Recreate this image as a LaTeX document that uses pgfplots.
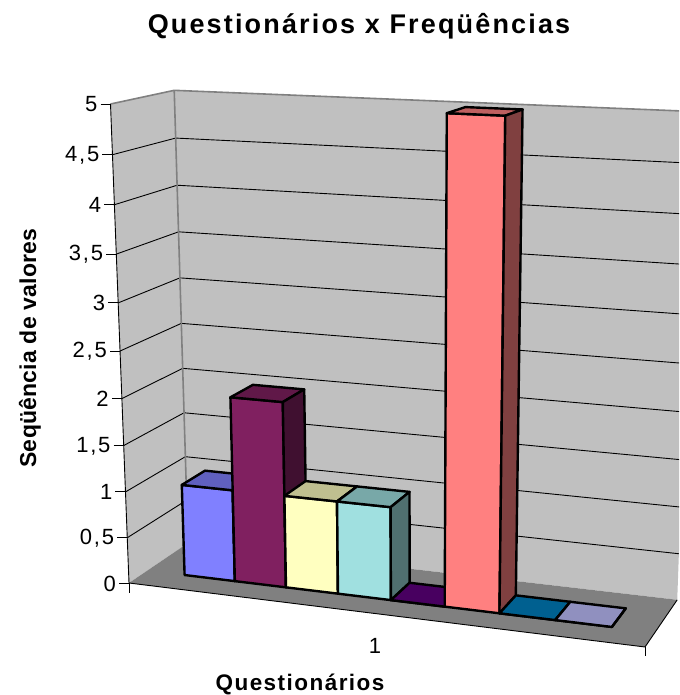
\documentclass[border=0pt]{standalone}
\usepackage{pgfplots}
\usepackage{pgfplotstable}
\usepackage{fontspec}
\setmainfont{Liberation Sans}
\pgfplotsset{compat=1.18}
\definecolor{cA}{HTML}{8080FF}
\definecolor{cB}{HTML}{802060}
\definecolor{cC}{HTML}{FFFFC0}
\definecolor{cD}{HTML}{A0E0E0}
\definecolor{cE}{HTML}{600080}
\definecolor{cF}{HTML}{FF8080}
\definecolor{cG}{HTML}{0080C0}
\definecolor{cH}{HTML}{C0C0FF}
\pgfplotstableread{
slot value
0 1
1 2
2 1
3 1
4 0
5 5
6 0
7 0
}\datatab
\tikzset{
  declare function={
    UU(\a)=(\a+0.75)/9.5;
    WW(\z)=\z/5;
    DD(\u,\v,\w)=1-0.08*\u+0.06*\v-0.061*\w;
    PX(\a,\d,\z)=(129+464.4*UU(\a)+70.28*\d-25.24*WW(\z))/DD(UU(\a),\d,WW(\z));
    PY(\a,\d,\z)=(583+12.24*UU(\a)-7.42*\d-485.34*WW(\z))/DD(UU(\a),\d,WW(\z));
  }
}
% a polygon given in (slot, depth, value) coordinates, shifted by #1 slots
\newcommand\face[3]{\addplot[#2,forget plot] table[row sep=\\,
   x expr={PX(\thisrow{a}+#1,\thisrow{d},\thisrow{z})},
   y expr={PY(\thisrow{a}+#1,\thisrow{d},\thisrow{z})}]{a d z\\ #3} -- cycle;}
\newcommand\seg[3]{\addplot[#2,forget plot] table[row sep=\\,
   x expr={PX(\thisrow{a}+#1,\thisrow{d},\thisrow{z})},
   y expr={PY(\thisrow{a}+#1,\thisrow{d},\thisrow{z})}]{a d z\\ #3};}
\newcommand\barfaces[3]{% height, slot, colour
  \face{#2}{fill=#3,barline}{0 0.3 0\\ 1 0.3 0\\ 1 0.3 #1\\ 0 0.3 #1\\}
  \face{#2}{fill=#3!75!black,barline}{0 0.3 #1\\ 1 0.3 #1\\ 1 0.7 #1\\ 0 0.7 #1\\}
  \face{#2}{fill=#3!50!black,barline}{1 0.3 0\\ 1 0.7 0\\ 1 0.7 #1\\ 1 0.3 #1\\}
}
\newcommand\drawbar[2]{%
  \pgfplotstablegetelem{#1}{value}\of\datatab
  \expandafter\barfaces\expandafter{\pgfplotsretval}{#1}{#2}}
\newcommand\gridat[1]{%
  \seg{0}{black,line width=0.9pt}{-0.75 0 #1\\ -0.75 1 #1\\ 8.75 1 #1\\}}
\newcommand\ticky[1]{%
  \addplot[black,line width=0.9pt,forget plot] table[row sep=\\,
    x expr={PX(-0.75,0,#1)+\thisrow{dx}}, y expr={PY(-0.75,0,#1)}]{dx\\ -10\\ 0\\};}
\newcommand\tickx[1]{%
  \addplot[black,line width=0.9pt,forget plot] table[row sep=\\,
    x expr={PX(#1,0,0)}, y expr={PY(#1,0,0)+\thisrow{dy}}]{dy\\ 0\\ 9.5\\};}
\tikzset{barline/.style={draw=black,line width=2.4pt,line join=round}}
\newcommand\tl[3]{\node[anchor=east,inner sep=0pt,font=\fontsize{22}{22}\selectfont\addfontfeature{LetterSpace=8}] at (#1pt-13pt,694.5pt-#2pt) {#3};}
\begin{document}
\begin{tikzpicture}[x=1pt,y=1pt]
\path[use as bounding box] (0,0) rectangle (679pt,695pt);
\begin{axis}[at={(0pt,0pt)},anchor=south west,width=679pt,height=695pt,scale only axis,
  xmin=0,xmax=679,ymin=0,ymax=695,y dir=reverse,hide axis,no markers]
% walls and floor
\face{0}{draw=none,fill=white!75.3!black}{-0.75 0 0\\ -0.75 1 0\\ -0.75 1 5\\ -0.75 0 5\\}
\face{0}{draw=none,fill=white!75.3!black}{-0.75 1 0\\ 8.75 1 0\\ 8.75 1 5\\ -0.75 1 5\\}
\face{0}{draw=none,fill=white!50.2!black}{-0.75 0 0\\ 8.75 0 0\\ 8.75 1 0\\ -0.75 1 0\\}
\pgfplotsinvokeforeach{0.5,1,1.5,2,2.5,3,3.5,4,4.5}{\gridat{#1}}
\seg{0}{draw=white!50.2!black,line width=1.6pt}{-0.75 0 5\\ -0.75 1 5\\ 8.75 1 5\\}
\seg{0}{draw=white!50.2!black,line width=1.6pt}{-0.75 1 0\\ -0.75 1 5\\}
% axis lines and ticks
\seg{0}{black,line width=0.9pt}{-0.75 0 5\\ -0.75 0 0\\ 8.75 0 0\\ 8.75 1 0\\}
\pgfplotsinvokeforeach{0,0.5,1,1.5,2,2.5,3,3.5,4,4.5,5}{\ticky{#1}}
\tickx{-0.75}
\tickx{8.75}
% bars
\drawbar{0}{cA}
\drawbar{1}{cB}
\drawbar{2}{cC}
\drawbar{3}{cD}
\drawbar{4}{cE}
\drawbar{5}{cF}
\drawbar{6}{cG}
\drawbar{7}{cH}
\end{axis}
\tl{110.5}{104}{5}
\tl{112.5}{154.7}{4,5}
\tl{114.4}{204.7}{4}
\tl{116.3}{254.1}{3,5}
\tl{118.2}{302.9}{3}
\tl{120}{351}{2,5}
\tl{121.9}{398.6}{2}
\tl{123.7}{445.6}{1,5}
\tl{125.5}{491.9}{1}
\tl{127.25}{537.8}{0,5}
\tl{129}{583}{0}
\node[font=\fontsize{22}{22}\selectfont,inner sep=0pt] at (375pt,49pt) {1};
\node[font=\fontsize{27}{27}\selectfont\bfseries\addfontfeature{LetterSpace=8},inner sep=0pt] at (359pt,669pt) {Questionários x Freqüências};
\node[font=\fontsize{22.5}{23}\selectfont\bfseries\addfontfeature{LetterSpace=6.5},inner sep=0pt] at (300pt,10.5pt) {Questionários};
\node[font=\fontsize{23}{23}\selectfont\bfseries\addfontfeature{LetterSpace=1},rotate=90,inner sep=0pt] at (30pt,347pt) {Seqüência de valores};
\end{tikzpicture}
\end{document}
